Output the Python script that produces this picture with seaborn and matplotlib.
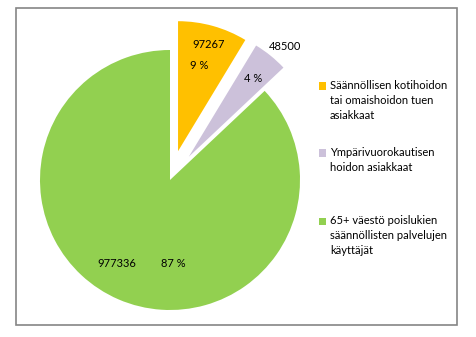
import matplotlib
matplotlib.use("Agg")
import matplotlib.pyplot as plt
from matplotlib.patches import Rectangle
import seaborn as sns

# Data
categories = ["Säännöllisen kotihoidon\ntai omaishoidon tuen\nasiakkaat",
              "Ympärivuorokautisen\nhoidon asiakkaat",
              "65+ väestö poislukien\nsäännöllisten palvelujen\nkäyttäjät"]
values = [97267, 48500, 977336]
pct_labels = ["9 %", "4 %", "87 %"]
colors = ["#FFC000", "#CCC1DA", "#92D050"]

sns.set_style("white")
plt.rcParams['font.family'] = ['Lato', 'DejaVu Sans']

W, H = 476, 337
fig = plt.figure(figsize=(W / 100, H / 100), dpi=100)

# outer frame
fig.patches.append(Rectangle((16 / W, 1 - 325 / H), (457 - 16) / W, (325 - 8) / H,
                             transform=fig.transFigure, fill=False,
                             edgecolor="#858585", linewidth=1.2))

cx, cy, R = 170, 180, 130
ax = fig.add_axes([(cx - R) / W, (H - cy - R) / H, 2 * R / W, 2 * R / H])
palette = sns.color_palette(colors)
wedges, _ = ax.pie(values, colors=palette, startangle=90, counterclock=False,
                   explode=[0.23, 0.23, 0.0], radius=1.0,
                   wedgeprops=dict(linewidth=0))
for w in wedges:
    w.set_clip_on(False)
ax.set_xlim(-1, 1)
ax.set_ylim(-1, 1)
ax.set_aspect("equal")
ax.axis("off")

# data labels (value / percent)
fs = 8
val_pos = [(0.30, 1.04), (0.885, 1.03), (-0.41, -0.646)]
pct_pos = [(0.223, 0.877), (0.638, 0.777), (0.023, -0.646)]
for v, p, vp, pp in zip(values, pct_labels, val_pos, pct_pos):
    ax.text(*vp, f"{v}", ha="center", va="center", fontsize=fs, color="black", clip_on=False)
    ax.text(*pp, p, ha="center", va="center", fontsize=fs, color="black", clip_on=False)

# legend (manual, Excel-like vertical distribution)
leg_y = [86, 153, 221]
line_h = 14.8
for lab, col, y in zip(categories, colors, leg_y):
    fig.patches.append(Rectangle((319 / W, 1 - (y + 3.5) / H), 7 / W, 7 / H,
                                 transform=fig.transFigure, facecolor=col,
                                 edgecolor="none"))
    for i, line in enumerate(lab.split("\n")):
        fig.text(330 / W, 1 - (y + i * line_h) / H, line, ha="left", va="center",
                 fontsize=fs, color="black")

fig.savefig("out.png", dpi=100)
